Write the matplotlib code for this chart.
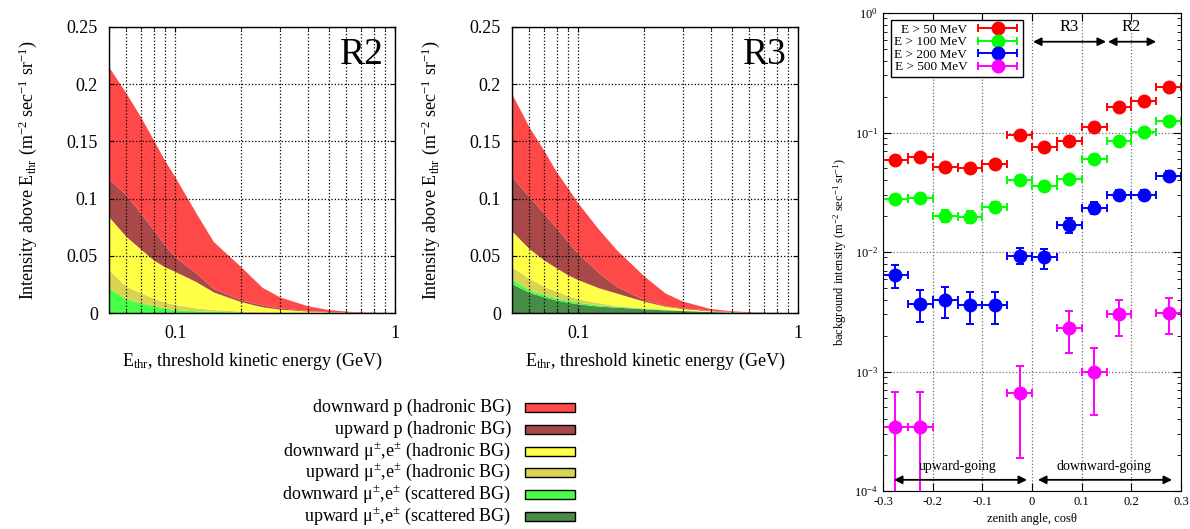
import numpy as np
import matplotlib
matplotlib.use("Agg")
import matplotlib.pyplot as plt
from matplotlib.patches import Rectangle
from matplotlib.container import ErrorbarContainer
from matplotlib.legend_handler import HandlerErrorbar
from matplotlib.ticker import LogLocator, FixedLocator, NullFormatter, FixedFormatter

plt.rcParams.update({
    "font.family": ["Liberation Serif", "DejaVu Serif"],
    "mathtext.fontset": "custom",
    "mathtext.rm": "Liberation Serif",
    "mathtext.it": "Liberation Serif:italic",
    "mathtext.default": "regular",
})

# threshold energies (GeV)
e_thr = [0.05, 0.06, 0.07, 0.08, 0.09, 0.1, 0.125, 0.15, 0.2, 0.25, 0.3,
         0.4, 0.5, 0.6, 0.7, 0.8, 0.9, 1.0]

# R2 components (stacked from bottom)
r2_up_scat = [0] * 18
r2_down_scat = [0.0215, 0.012, 0.0084, 0.006, 0.004, 0.0026, 0.0015, 0.001, 0.0005,
                0.0002, 0.0001, 0, 0, 0, 0, 0, 0, 0]
r2_up_mu = [0.016, 0.011, 0.0088, 0.0065, 0.005, 0.0044, 0.0025, 0.0016, 0.0007,
            0.0004, 0.0003, 0.0002, 0.0001, 0, 0, 0, 0, 0]
r2_down_mu = [0.0465, 0.0436, 0.0383, 0.0335, 0.031, 0.029, 0.023, 0.0154, 0.0083,
              0.0044, 0.0026, 0.0011, 0.0005, 0.0003, 0.0001, 0, 0, 0]
r2_up_p = [0.033, 0.0364, 0.0315, 0.0264, 0.019, 0.013, 0.0076, 0.003, 0.0015,
           0.0015, 0.001, 0.0005, 0.0003, 0.0001, 0.0001, 0.0001, 0, 0]
r2_down_p = [0.098, 0.089, 0.084, 0.0786, 0.074, 0.070, 0.0524, 0.041, 0.029,
             0.0155, 0.0097, 0.0042, 0.0017, 0.0008, 0.0004, 0.0002, 0.0001, 0]

# R3 components
r3_up_scat = [0.0253, 0.0177, 0.0137, 0.0108, 0.009, 0.0076, 0.0055, 0.0047, 0.0032,
              0.0023, 0.0017, 0.0008, 0.0004, 0.0002, 0.0001, 0, 0, 0]
r3_down_scat = [0.0041, 0.0023, 0.002, 0.0017, 0.0018, 0.0014, 0.0012, 0.0008, 0.0006,
                0.0003, 0.0002, 0.0001, 0, 0, 0, 0, 0, 0]
r3_up_mu = [0.0106, 0.010, 0.0073, 0.0061, 0.004, 0.003, 0.0017, 0.0005, 0.0002,
            0.0002, 0.0001, 0.0001, 0.0001, 0, 0, 0, 0, 0]
r3_down_mu = [0.0315, 0.026, 0.023, 0.0204, 0.0182, 0.0168, 0.0131, 0.011, 0.0059,
              0.0027, 0.0015, 0.0005, 0.0002, 0.0001, 0, 0, 0, 0]
r3_up_p = [0.0475, 0.0455, 0.041, 0.035, 0.029, 0.0232, 0.0131, 0.006, 0.0014,
           0.0005, 0.0005, 0.0005, 0.0003, 0.0002, 0.0001, 0.0001, 0, 0]
r3_down_p = [0.0726, 0.061, 0.055, 0.049, 0.047, 0.044, 0.0378, 0.032, 0.0207,
             0.011, 0.006, 0.0015, 0.0005, 0.0002, 0.0001, 0, 0, 0]

labels = ["downward p (hadronic BG)", "upward p (hadronic BG)",
          "downward μ$^{\\pm}$,e$^{\\pm}$ (hadronic BG)", "upward μ$^{\\pm}$,e$^{\\pm}$ (hadronic BG)",
          "downward μ$^{\\pm}$,e$^{\\pm}$ (scattered BG)", "upward μ$^{\\pm}$,e$^{\\pm}$ (scattered BG)"]
colors = ["#ff4848", "#a84848", "#ffff48", "#d8d450", "#48ff48", "#488c48"]

# zenith angle data
cos_c = [-0.275, -0.225, -0.175, -0.125, -0.075, -0.025, 0.025, 0.075, 0.125, 0.175, 0.225, 0.275]
i50 = [0.059, 0.062, 0.051, 0.050, 0.055, 0.096, 0.075, 0.085, 0.112, 0.165, 0.183, 0.24]
i50_err = [0.003, 0.003, 0.003, 0.003, 0.003, 0.004, 0.003, 0.004, 0.004, 0.005, 0.005, 0.006]
i100 = [0.0278, 0.0285, 0.0201, 0.0198, 0.024, 0.0397, 0.0354, 0.041, 0.0605, 0.0846, 0.101, 0.126]
i100_err = [0.002, 0.002, 0.0022, 0.0022, 0.0022, 0.002, 0.002, 0.002, 0.0025, 0.003, 0.003, 0.003]
i200 = [0.0064, 0.0037, 0.0040, 0.0036, 0.0036, 0.0093, 0.0090, 0.0167, 0.0232, 0.030, 0.030, 0.0436]
i200_lo = [0.0050, 0.0026, 0.0028, 0.0025, 0.0025, 0.0080, 0.0072, 0.0145, 0.0208, 0.0273, 0.0273, 0.040]
i200_hi = [0.0078, 0.0048, 0.0051, 0.0046, 0.0046, 0.0109, 0.0105, 0.0192, 0.0263, 0.0331, 0.0331, 0.0477]
cos_500 = [-0.275, -0.225, -0.025, 0.075, 0.125, 0.175, 0.275]
i500 = [0.000343, 0.00034, 0.00066, 0.0023, 0.0010, 0.0030, 0.0031]
i500_lo = [0.00005, 0.00005, 0.00019, 0.00144, 0.00043, 0.0020, 0.00207]
i500_hi = [0.00068, 0.00068, 0.00112, 0.0032, 0.00156, 0.0040, 0.0041]

W, H = 1190, 529
fig = plt.figure(figsize=(W / 100, H / 100), dpi=100)


def energy_panel(rect, comps, tag):
    ax = fig.add_axes(rect)
    ax.stackplot(e_thr, *comps, colors=colors[::-1], linewidth=0, zorder=1)
    ax.set_xscale("log")
    ax.set_xlim(0.05, 1)
    ax.set_ylim(0, 0.25)
    ax.xaxis.set_major_locator(FixedLocator([0.1, 1]))
    ax.xaxis.set_major_formatter(FixedFormatter(["0.1", "1"]))
    ax.xaxis.set_minor_locator(LogLocator(subs=np.arange(2, 10)))
    ax.xaxis.set_minor_formatter(NullFormatter())
    ax.set_yticks([0, 0.05, 0.1, 0.15, 0.2, 0.25])
    ax.set_yticklabels(["0", "0.05", "0.1", "0.15", "0.2", "0.25"])
    ax.grid(True, which="both", axis="x", color="black", linestyle=":", linewidth=0.9, zorder=3)
    ax.grid(True, which="major", axis="y", color="black", linestyle=":", linewidth=0.9, zorder=3)
    ax.set_axisbelow(False)
    ax.tick_params(which="both", direction="in", top=True, right=True, labelsize=13)
    ax.tick_params(axis="x", pad=9)
    ax.tick_params(axis="y", pad=8)
    ax.set_xlabel("E$_{thr}$, threshold kinetic energy (GeV)", fontsize=13, labelpad=6)
    ax.set_ylabel("Intensity above E$_{thr}$ (m$^{-2}$ sec$^{-1}$ sr$^{-1}$)", fontsize=13, labelpad=20)
    ax.text(0.962, 0.872, tag, transform=ax.transAxes, ha="right", va="baseline", fontsize=27)
    for s in ax.spines.values():
        s.set_linewidth(1.0)
        s.set_zorder(4)
    return ax


energy_panel([109 / W, 1 - 313 / H, 286 / W, 286 / H],
             [r2_up_scat, r2_down_scat, r2_up_mu, r2_down_mu, r2_up_p, r2_down_p], "R2")
energy_panel([512 / W, 1 - 313 / H, 286 / W, 286 / H],
             [r3_up_scat, r3_down_scat, r3_up_mu, r3_down_mu, r3_up_p, r3_down_p], "R3")

# key for the two energy panels, labels right-aligned with swatches to the right
row_y = [407, 429, 451, 472, 494, 516]
for lab, col, yy in zip(labels, colors, row_y):
    fig.text(511 / W, 1 - yy / H, lab, ha="right", va="center", fontsize=13)
    fig.add_artist(Rectangle((525 / W, 1 - (yy + 4.5) / H), 50 / W, 9 / H,
                             facecolor=col, edgecolor="black", linewidth=1.0,
                             transform=fig.transFigure))

# zenith angle panel
ax3 = fig.add_axes([883 / W, 1 - 491 / H, 298 / W, 478 / H])
kw = dict(fmt="o", markersize=9, elinewidth=1.4, capsize=3, capthick=1.4, xerr=0.025)
ax3.errorbar(cos_c, i50, yerr=i50_err, color="#ff0000", label="E > 50 MeV", **kw)
ax3.errorbar(cos_c, i100, yerr=i100_err, color="#00ff00", label="E > 100 MeV", **kw)
ax3.errorbar(cos_c, i200, yerr=[np.subtract(i200, i200_lo), np.subtract(i200_hi, i200)],
             color="#0000ff", label="E > 200 MeV", **kw)
ax3.errorbar(cos_500, i500, yerr=[np.subtract(i500, i500_lo), np.subtract(i500_hi, i500)],
             color="#ff00ff", label="E > 500 MeV", **kw)
ax3.set_yscale("log")
ax3.set_xlim(-0.3, 0.3)
ax3.set_ylim(1e-4, 1)
ax3.set_xticks([-0.3, -0.2, -0.1, 0, 0.1, 0.2, 0.3])
ax3.set_xticklabels(["-0.3", "-0.2", "-0.1", "0", "0.1", "0.2", "0.3"])
ax3.yaxis.set_major_locator(LogLocator(base=10, numticks=10))
ax3.yaxis.set_minor_locator(LogLocator(base=10, subs=np.arange(2, 10), numticks=10))
ax3.yaxis.set_minor_formatter(NullFormatter())
ax3.grid(True, which="major", color="#707070", linestyle=":", linewidth=0.9)
ax3.set_axisbelow(True)
ax3.tick_params(which="both", direction="in", top=True, right=True, labelsize=9)
ax3.tick_params(which="major", length=6)
ax3.tick_params(which="minor", length=3)
ax3.set_xlabel("zenith angle, cosθ", fontsize=9)
ax3.set_ylabel("background intensity (m$^{-2}$ sec$^{-1}$ sr$^{-1}$)", fontsize=9, labelpad=4)
leg = ax3.legend(loc="upper left", bbox_to_anchor=(0.027, 0.985), markerfirst=False, fontsize=9.5,
                 fancybox=False, framealpha=1, edgecolor="black", handlelength=3.4,
                 borderpad=0.25, labelspacing=0.02, borderaxespad=0, handletextpad=0.6,
                 handler_map={ErrorbarContainer: HandlerErrorbar(xerr_size=1.5, yerr_size=0.0)})
leg.get_frame().set_linewidth(1.0)

arr = dict(arrowstyle="<|-|>", color="black", lw=1.3, mutation_scale=12, shrinkA=0, shrinkB=0)
ax3.annotate("", xy=(0.002, 0.575), xytext=(0.149, 0.575), arrowprops=arr)
ax3.annotate("", xy=(0.153, 0.575), xytext=(0.25, 0.575), arrowprops=arr)
ax3.text(0.075, 0.65, "R3", ha="center", va="bottom", fontsize=12)
ax3.text(0.2, 0.65, "R2", ha="center", va="bottom", fontsize=12)
ax3.annotate("", xy=(-0.278, 1.24e-4), xytext=(-0.01, 1.24e-4), arrowprops=arr)
ax3.annotate("", xy=(0.012, 1.24e-4), xytext=(0.282, 1.24e-4), arrowprops=arr)
ax3.text(-0.149, 1.42e-4, "upward-going", ha="center", va="bottom", fontsize=10)
ax3.text(0.144, 1.42e-4, "downward-going", ha="center", va="bottom", fontsize=10)

fig.savefig("out.png", dpi=100)
